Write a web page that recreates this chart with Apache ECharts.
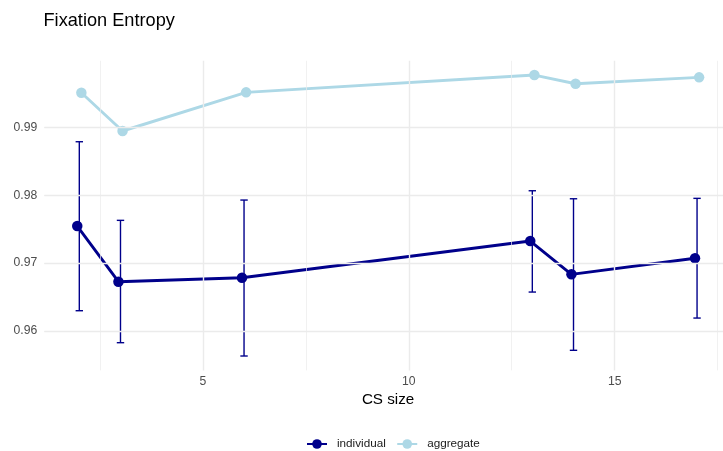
<!DOCTYPE html>
<html>
<head>
<meta charset="utf-8">
<script src="https://cdn.jsdelivr.net/npm/echarts@6/dist/echarts.min.js"></script>
<style>
  html, body { margin: 0; padding: 0; background: #ffffff; }
  #chart { width: 723px; height: 451px; }
</style>
</head>
<body>
<div id="chart"></div>
<script>
// Fixation entropy by CS size
const csSize = [2, 3, 6, 13, 14, 17];
const individualMean = [0.97546, 0.96726, 0.96785, 0.97325, 0.96835, 0.97071];
const individualLower = [0.96299, 0.95828, 0.95632, 0.96574, 0.95716, 0.96191];
const individualUpper = [0.98788, 0.97630, 0.97929, 0.98066, 0.97948, 0.97954];
const aggregateValue = [0.99510, 0.98946, 0.99515, 0.99770, 0.99642, 0.99736];

const xTicks = [5, 10, 15];
const xMinorTicks = [2.5, 7.5, 12.5, 17.5];
const yTicks = [0.96, 0.97, 0.98, 0.99];
const yMinorTicks = [0.955, 0.965, 0.975, 0.985, 0.995];

// small horizontal dodge between the two groups
const dodge = 0.05;

const FONT = '"Liberation Sans", Arial, Helvetica, sans-serif';
const DARK = '#00008B';
const LIGHT = '#ADD8E6';
const GRID = '#EBEBEB';

const chart = echarts.init(document.getElementById('chart'), null, { renderer: 'canvas' });

const individualData = csSize.map((x, i) => [x - dodge, individualMean[i]]);
const aggregateData = csSize.map((x, i) => [x + dodge, aggregateValue[i]]);
const errorData = csSize.map((x, i) => [x, individualLower[i], individualUpper[i]]);

const gridLines = [];
xTicks.forEach(v => gridLines.push({ xAxis: v, lineStyle: { width: 1.4 } }));
xMinorTicks.forEach(v => gridLines.push({ xAxis: v, lineStyle: { width: 0.7 } }));
yTicks.forEach(v => gridLines.push({ yAxis: v, lineStyle: { width: 1.4 } }));
yMinorTicks.forEach(v => gridLines.push({ yAxis: v, lineStyle: { width: 0.7 } }));

const option = {
  animation: false,
  backgroundColor: '#ffffff',
  textStyle: { fontFamily: FONT },
  title: {
    text: 'Fixation Entropy',
    left: 43.5,
    top: 12,
    padding: 0,
    textStyle: { fontFamily: FONT, fontSize: 18.2, fontWeight: 'normal', color: '#000000' }
  },
  // the panel runs past the right edge of the canvas, so the x range stops at the edge
  grid: { left: 44.3, top: 60.8, right: 0, height: 309.6, containLabel: false },
  xAxis: {
    type: 'value',
    min: 1.15,
    max: 17.63,
    name: 'CS size',
    nameLocation: 'middle',
    nameGap: 21,
    nameTextStyle: { fontFamily: FONT, fontSize: 15.2, color: '#000000', padding: [0, 0, 0, 8.8] },
    axisLine: { show: false },
    axisTick: { show: false },
    splitLine: { show: false },
    axisLabel: {
      customValues: xTicks,
      margin: 5,
      fontFamily: FONT,
      fontSize: 12.2,
      color: '#4D4D4D'
    }
  },
  yAxis: {
    type: 'value',
    min: 0.9542,
    max: 0.9998,
    axisLine: { show: false },
    axisTick: { show: false },
    splitLine: { show: false },
    axisLabel: {
      customValues: yTicks,
      margin: 7,
      fontFamily: FONT,
      fontSize: 12.2,
      color: '#4D4D4D',
      formatter: v => v.toFixed(2)
    }
  },
  legend: {
    left: 301,
    top: 433,
    itemWidth: 20,
    itemHeight: 12,
    itemGap: 10.5,
    textStyle: { fontFamily: FONT, fontSize: 11.7, color: '#1A1A1A', padding: [0, 0, 0, 5] },
    data: ['individual', 'aggregate']
  },
  series: [
    {
      name: 'grid',
      type: 'line',
      data: [],
      silent: true,
      z: 0,
      markLine: {
        silent: true,
        symbol: 'none',
        label: { show: false },
        lineStyle: { color: GRID, type: 'solid' },
        emphasis: { disabled: true },
        data: gridLines
      }
    },
    {
      name: 'errorbars',
      type: 'custom',
      z: 2,
      silent: true,
      data: errorData,
      renderItem: function (params, api) {
        const x = api.value(0);
        const lo = api.coord([x, api.value(1)]);
        const hi = api.coord([x, api.value(2)]);
        const cap = 3.7;
        const style = { stroke: DARK, lineWidth: 1.4, fill: null };
        return {
          type: 'group',
          children: [
            { type: 'line', shape: { x1: lo[0], y1: lo[1], x2: hi[0], y2: hi[1] }, style },
            { type: 'line', shape: { x1: lo[0] - cap, y1: lo[1], x2: lo[0] + cap, y2: lo[1] }, style },
            { type: 'line', shape: { x1: hi[0] - cap, y1: hi[1], x2: hi[0] + cap, y2: hi[1] }, style }
          ]
        };
      }
    },
    {
      name: 'individual',
      type: 'line',
      z: 3,
      data: individualData,
      symbol: 'circle',
      symbolSize: 10.5,
      showSymbol: true,
      color: DARK,
      itemStyle: { color: DARK },
      lineStyle: { color: DARK, width: 2.9 }
    },
    {
      name: 'aggregate',
      type: 'line',
      z: 3,
      data: aggregateData,
      symbol: 'circle',
      symbolSize: 10.5,
      showSymbol: true,
      color: LIGHT,
      itemStyle: { color: LIGHT },
      lineStyle: { color: LIGHT, width: 2.9 }
    }
  ]
};

chart.setOption(option);
</script>
</body>
</html>
